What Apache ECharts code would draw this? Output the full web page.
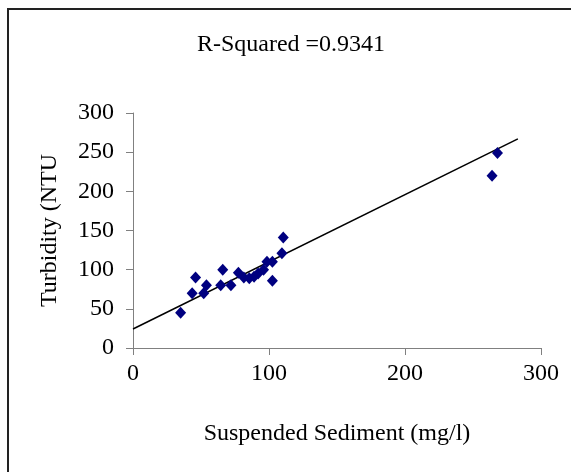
<!DOCTYPE html>
<html>
<head>
<meta charset="utf-8">
<script src="https://cdn.jsdelivr.net/npm/echarts@6/dist/echarts.min.js"></script>
<style>
  html, body { margin: 0; padding: 0; background: #fff; }
  #chart { width: 571px; height: 472px; }
</style>
</head>
<body>
<div id="chart"></div>
<script>
// suspended sediment (mg/l) vs turbidity (NTU)
const sediment = [35, 43.5, 46, 52, 54, 64.5, 66, 72, 77.5, 81.5, 85.5, 89, 92, 96, 98.5, 102.5, 102.5, 109.5, 110.5, 264, 268];
const turbidity = [45, 70, 90, 70, 80, 80, 100, 80, 96, 90, 89, 91, 95, 100, 110, 110, 86, 121, 141, 220, 249];
// fitted trend line end points
const trendX = [0, 283];
const trendY = [24.3, 267];
const xTicks = [0, 100, 200, 300];
const yTicks = [0, 50, 100, 150, 200, 250, 300];

const font = "'Liberation Serif', 'Times New Roman', serif";
const axisGray = "#808080";

const chart = echarts.init(document.getElementById("chart"));
const option = {
    backgroundColor: "#fff",
    animation: false,
    graphic: [
        {
            type: "rect",
            shape: { x: 8, y: 9, width: 620, height: 520 },
            style: { fill: "none", stroke: "#222", lineWidth: 2 },
            silent: true,
        },
        {
            type: "text",
            x: 291,
            y: 45,
            style: {
                text: "R-Squared =0.9341",
                font: "24px " + font,
                fill: "#000",
                textAlign: "center",
                textVerticalAlign: "middle",
            },
        },
    ],
    grid: {
        left: 133,
        top: 113,
        right: 30,
        bottom: 124,
    },
    xAxis: {
        type: "value",
        min: xTicks[0],
        max: xTicks[xTicks.length - 1],
        interval: 100,
        name: "Suspended Sediment (mg/l)",
        nameLocation: "middle",
        nameGap: 74,
        nameTextStyle: { fontFamily: font, fontSize: 24, color: "#000" },
        axisLine: { show: true, lineStyle: { color: axisGray, width: 1 } },
        axisTick: { show: true, inside: false, length: 7, lineStyle: { color: axisGray } },
        axisLabel: { margin: 14, fontFamily: font, fontSize: 24, color: "#000" },
        splitLine: { show: false },
    },
    yAxis: {
        type: "value",
        min: yTicks[0],
        max: yTicks[yTicks.length - 1],
        interval: 50,
        name: "Turbidity (NTU",
        nameLocation: "middle",
        nameGap: 71,
        nameTextStyle: { fontFamily: font, fontSize: 24, color: "#000" },
        axisLine: { show: true, lineStyle: { color: axisGray, width: 1 } },
        axisTick: { show: true, inside: false, length: 7, lineStyle: { color: axisGray } },
        axisLabel: { margin: 19, fontFamily: font, fontSize: 24, color: "#000" },
        splitLine: { show: false },
    },
    series: [
        {
            type: "line",
            data: trendX.map((x, i) => [x, trendY[i]]),
            symbol: "none",
            lineStyle: { color: "#000", width: 1.5 },
            z: 2,
        },
        {
            type: "scatter",
            data: sediment.map((x, i) => [x, turbidity[i]]),
            symbol: "diamond",
            symbolSize: [11, 12],
            itemStyle: { color: "#000080", opacity: 1 },
            z: 3,
        },
    ],
};
chart.setOption(option);
</script>
</body>
</html>
